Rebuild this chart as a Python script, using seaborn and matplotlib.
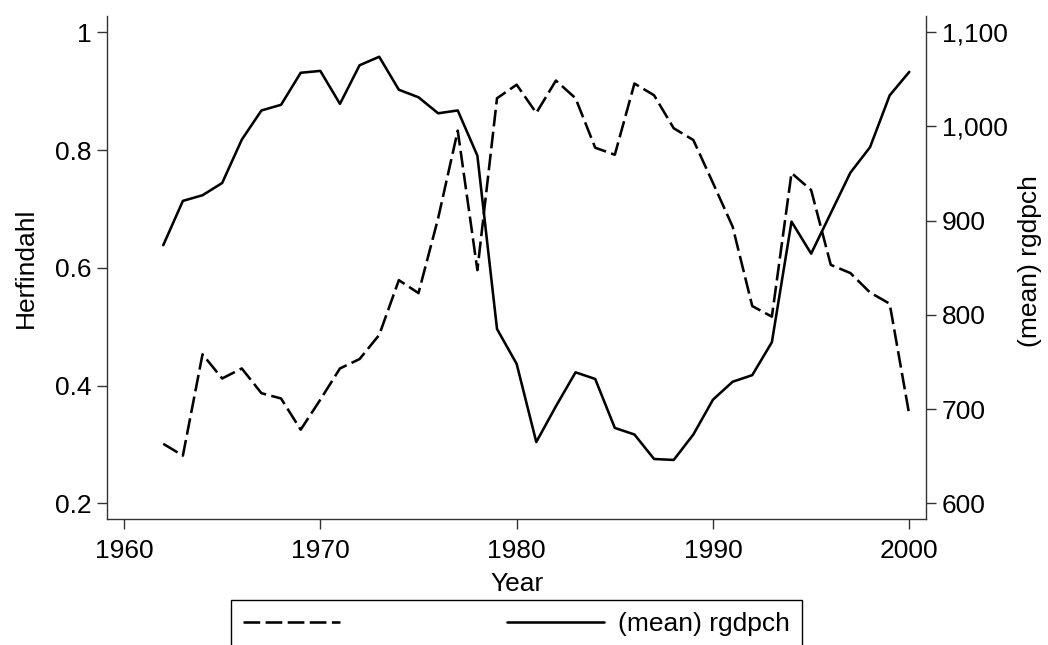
import matplotlib
matplotlib.use("Agg")
import matplotlib.pyplot as plt
from matplotlib.lines import Line2D
import seaborn as sns
import pandas as pd

# ---- data ----
years = list(range(1962, 2001))
herfindahl = [0.301, 0.281, 0.453, 0.412, 0.429, 0.387, 0.378, 0.325, 0.376, 0.429,
              0.445, 0.486, 0.579, 0.557, 0.684, 0.833, 0.596, 0.888, 0.911, 0.863,
              0.918, 0.888, 0.804, 0.792, 0.913, 0.893, 0.837, 0.817, 0.744, 0.670,
              0.535, 0.517, 0.761, 0.732, 0.605, 0.591, 0.558, 0.539, 0.350]
rgdpch = [874, 921, 927, 940, 986, 1017, 1023, 1057, 1059, 1024,
          1065, 1074, 1039, 1031, 1014, 1017, 969, 785, 748, 665,
          703, 739, 732, 680, 673, 647, 646, 673, 710, 729,
          736, 771, 899, 865, 908, 951, 978, 1033, 1058]
x_ticks = [1960, 1970, 1980, 1990, 2000]
left_ticks = [0.2, 0.4, 0.6, 0.8, 1.0]
left_tick_labels = ["0.2", "0.4", "0.6", "0.8", "1"]
right_ticks = [600, 700, 800, 900, 1000, 1100]
right_tick_labels = ["600", "700", "800", "900", "1,000", "1,100"]
x_label = "Year"
left_label = "Herfindahl"
right_label = "(mean) rgdpch"
legend_labels = [" ", "(mean) rgdpch"]

df = pd.DataFrame({"year": years, "herf": herfindahl, "rgdpch": rgdpch})

sns.set_theme(style="white")
plt.rcParams["font.family"] = ["Liberation Sans", "DejaVu Sans"]
plt.rcParams["text.color"] = "black"
plt.rcParams["axes.labelcolor"] = "black"
plt.rcParams["xtick.color"] = "black"
plt.rcParams["ytick.color"] = "black"
FS = 19

W, H = 1048, 645
fig = plt.figure(figsize=(W / 100, H / 100), dpi=100)
L, R, B, T = 107.3, 926.0, 519.0, 15.7
ax = fig.add_axes([L / W, 1 - B / H, (R - L) / W, (B - T) / H])
ax2 = ax.twinx()

LW = 1.85
dash = (0, (6.5, 2.1))
sns.lineplot(data=df, x="year", y="herf", ax=ax, color="black", lw=LW,
             linestyle="-", legend=False)
ax.lines[0].set_linestyle(dash)
ax.lines[0].set_dash_capstyle("butt")
sns.lineplot(data=df, x="year", y="rgdpch", ax=ax2, color="black", lw=LW,
             legend=False)

ax.set_xlim(1959.15, 2000.85)
ax.set_ylim(0.1733, 1.0282)
ax2.set_ylim(583.3, 1117.6)

ax.set_xticks(x_ticks)
ax.set_xticklabels([str(v) for v in x_ticks])
ax.set_yticks(left_ticks)
ax.set_yticklabels(left_tick_labels)
ax2.set_yticks(right_ticks)
ax2.set_yticklabels(right_tick_labels)

spine_c = "#333333"
for a in (ax, ax2):
    for s in a.spines.values():
        s.set_color(spine_c)
        s.set_linewidth(1.0)
    a.spines["top"].set_visible(False)
ax.spines["right"].set_visible(False)
ax2.spines["left"].set_visible(False)
ax2.spines["bottom"].set_visible(False)

ax.tick_params(axis="x", direction="out", length=7.4, width=1.0, color=spine_c,
               labelcolor="black", labelsize=FS, pad=7, bottom=True)
ax.tick_params(axis="y", direction="out", length=7.0, width=1.0, color=spine_c,
               labelcolor="black", labelsize=FS, pad=4.5, left=True)
ax2.tick_params(axis="y", direction="out", length=7.0, width=1.0, color=spine_c,
                labelcolor="black", labelsize=FS, pad=4.5, right=True)

ax.set_xlabel(x_label, fontsize=FS, color="black")
ax.set_ylabel(left_label, fontsize=FS, color="black")
ax2.set_ylabel(right_label, fontsize=FS, color="black")
ax.xaxis.set_label_coords(0.5, (B - 571.7) / (B - T))
ax.yaxis.set_label_coords((37.5 - L) / (R - L), 0.5)
ax2.yaxis.set_label_coords((1018 - L) / (R - L), (B - 261) / (B - T))

handles = [Line2D([], [], color="black", lw=LW, linestyle=dash, dash_capstyle="butt"),
           Line2D([], [], color="black", lw=LW)]
leg = fig.legend(handles, legend_labels, ncol=2, mode="expand",
                 bbox_to_anchor=(231 / W, 0, (801.7 - 231) / W, 1 - 600 / H),
                 loc="upper left", borderaxespad=0, fontsize=FS,
                 handlelength=3.67, handletextpad=0.54, borderpad=0.45,
                 fancybox=False, shadow=False, framealpha=1, edgecolor="black",
                 labelcolor="black")
leg.get_frame().set_linewidth(1.0)

fig.savefig("out.png", dpi=100)
